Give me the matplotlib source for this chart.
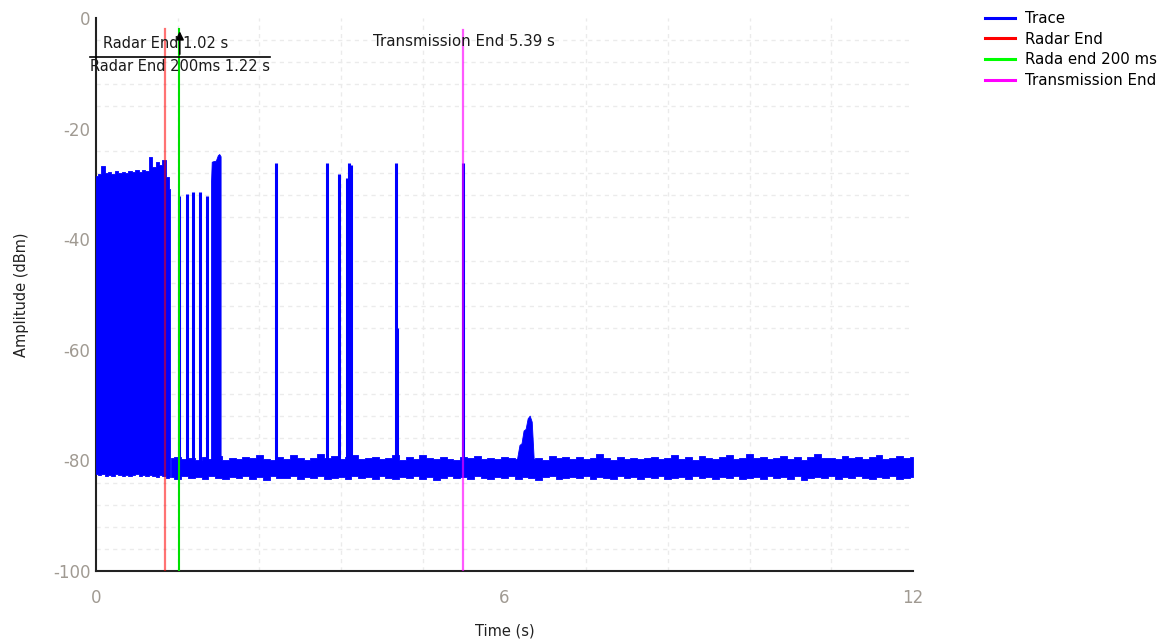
import numpy as np
import matplotlib
matplotlib.use("Agg")
import matplotlib.pyplot as plt

plt.rcParams['axes.unicode_minus'] = False
plt.rcParams['font.family'] = ['DejaVu Sans']

# dense radar burst, 0 .. 1.08 s (envelope)
burst_t = [0.00, 0.05, 0.10, 0.15, 0.20, 0.25, 0.30, 0.35, 0.40, 0.45, 0.50, 0.55,
           0.60, 0.65, 0.70, 0.75, 0.80, 0.85, 0.90, 0.95, 1.00, 1.05, 1.08]
burst_top = [-28.6, -28.3, -26.8, -28.0, -27.9, -28.2, -27.7, -28.0, -27.8, -28.1, -27.6, -27.9,
             -27.5, -27.8, -27.4, -27.7, -25.1, -27.0, -26.1, -26.6, -25.7, -28.7, -31.0]
burst_bot = [-82.5, -82.7, -82.4, -82.8, -82.6, -82.9, -82.5, -82.7, -82.8, -82.6, -82.9, -82.7,
             -82.5, -82.8, -82.6, -82.9, -82.7, -82.8, -83.0, -82.6, -82.9, -83.2, -83.0]

# noise floor, 1.1 .. 12.0 s every 0.1 s
floor_t = np.round(np.arange(1.1, 12.01, 0.1), 2)
floor_top = [
    -79.6, -79.3, -79.8, -79.5, -80.0, -79.4, -79.7, -79.2, -79.9, -79.5,
    -79.8, -79.3, -79.6, -79.0, -79.7, -79.9, -79.4, -79.8, -79.1, -79.6,
    -79.9, -79.5, -78.9, -79.6, -79.2, -79.8, -79.4, -79.0, -79.7, -79.5,
    -79.3, -79.8, -79.6, -79.1, -79.9, -79.4, -79.7, -79.0, -79.6, -79.8,
    -79.4, -79.7, -79.9, -79.3, -79.6, -79.2, -79.8, -79.5, -79.7, -79.4,
    -79.6, -79.8, -79.3, -79.7, -79.5, -79.9, -79.2, -79.6, -79.4, -79.7,
    -79.3, -79.8, -79.5, -78.8, -79.6, -79.9, -79.4, -79.7, -79.5, -79.8,
    -79.6, -79.3, -79.8, -79.5, -79.0, -79.7, -79.4, -79.9, -79.2, -79.6,
    -79.8, -79.4, -79.1, -79.7, -79.5, -78.8, -79.6, -79.3, -79.8, -79.5,
    -79.2, -79.7, -79.4, -79.9, -79.3, -78.9, -79.6, -79.5, -79.8, -79.2,
    -79.6, -79.3, -79.8, -79.4, -79.0, -79.7, -79.5, -79.2, -79.6, -79.4]
floor_bot = [
    -83.0, -83.4, -82.9, -83.2, -83.0, -83.3, -82.8, -83.1, -83.4, -83.0,
    -83.2, -82.9, -83.3, -83.0, -83.5, -82.9, -83.1, -83.2, -82.8, -83.3,
    -83.0, -83.2, -82.9, -83.4, -83.1, -83.0, -83.3, -82.9, -83.2, -83.0,
    -83.3, -82.9, -83.1, -83.4, -83.0, -83.2, -82.8, -83.3, -83.0, -83.6,
    -83.1, -82.9, -83.2, -83.0, -83.4, -82.9, -83.1, -83.3, -83.0, -83.2,
    -82.9, -83.3, -83.0, -83.2, -83.5, -83.0, -82.9, -83.3, -83.1, -83.0,
    -83.2, -82.9, -83.3, -83.0, -83.1, -83.4, -82.9, -83.2, -83.0, -83.3,
    -83.0, -83.2, -82.9, -83.4, -83.1, -83.0, -83.3, -82.9, -83.2, -83.0,
    -83.3, -83.0, -83.2, -82.9, -83.4, -83.1, -83.0, -83.3, -82.9, -83.2,
    -83.0, -83.3, -82.9, -83.5, -83.1, -83.0, -83.2, -82.9, -83.3, -83.0,
    -83.2, -82.9, -83.1, -83.3, -83.0, -83.2, -82.9, -83.4, -83.1, -83.0]

# isolated pulses after the burst
spike_t = [1.22, 1.33, 1.42, 1.53, 1.63, 2.64, 3.40, 3.57, 3.69, 3.72, 3.75, 4.40, 4.42, 5.39]
spike_top = [-32.2, -31.8, -31.5, -31.4, -32.2, -26.3, -26.3, -28.2, -29.0, -26.3, -26.5, -26.3, -56.0, -26.3]

# short pulse block around 1.7-1.8 s
block_t = [1.69, 1.70, 1.72, 1.76, 1.79, 1.81, 1.83]
block_top = [-29.5, -26.0, -25.9, -25.8, -24.8, -24.6, -25.0]

# small bump at ~6.3 s
bump_t = [6.18, 6.22, 6.25, 6.28, 6.31, 6.34, 6.37, 6.40, 6.43]
bump_top = [-80.0, -77.2, -76.9, -74.6, -74.3, -72.4, -71.9, -73.0, -80.0]

radar_end = 1.02
radar_end_200 = 1.22
tx_end = 5.39

blue = '#0000ff'

fig = plt.figure(figsize=(11.63, 6.42), dpi=100)
ax = fig.add_axes([96 / 1163, 1 - 571 / 642, 817 / 1163, 553 / 642])

# trace
ax.fill_between(burst_t, burst_bot, burst_top, color=blue, lw=0.6, zorder=3, step='mid')
ax.fill_between(floor_t, floor_bot, floor_top, color=blue, lw=0.6, zorder=3, step='mid')
ax.fill_between(block_t, -81.0, block_top, color=blue, lw=0.6, zorder=3)
ax.fill_between(bump_t, -81.0, bump_top, color=blue, lw=0.6, zorder=3)
ax.vlines(spike_t, -81.0, spike_top, color=blue, lw=2.2, zorder=3)
ax.plot([], [], color=blue, lw=2.2, label='Trace')

# markers
ax.plot([radar_end, radar_end], [-2.0, -100], color='#ff0000', alpha=0.55, lw=1.6,
        zorder=4, label='Radar End')
ax.plot([radar_end_200, radar_end_200], [-2.0, -100], color='#00e000', lw=1.5,
        zorder=5, label='Rada end 200 ms')
ax.plot([tx_end, tx_end], [-2.2, -100], color='#ff00ff', alpha=0.65, lw=1.6,
        zorder=4, label='Transmission End')

# annotation labels
ax.plot([-0.09, 2.56], [-7.05, -7.05], color='black', lw=1.2, clip_on=False, zorder=6)
ax.annotate('', xy=(1.23, -1.9), xytext=(1.23, -7.05),
            arrowprops=dict(arrowstyle='-|>', color='black', lw=1.2, mutation_scale=12),
            zorder=6, annotation_clip=False)
ax.text(0.10, -4.7, 'Radar End 1.02 s', fontsize=10.5, color='#1a1a1a', va='center', ha='left', zorder=7)
ax.text(-0.09, -8.8, 'Radar End 200ms 1.22 s', fontsize=10.5, color='#1a1a1a', va='center', ha='left',
        zorder=7, clip_on=False)
ax.text(4.07, -4.3, 'Transmission End 5.39 s', fontsize=10.8, color='#1a1a1a', va='center', ha='left', zorder=7)

# axes
ax.set_xlim(0, 12)
ax.set_ylim(-100, 0)
ax.set_xticks([0, 6, 12])
ax.set_yticks([0, -20, -40, -60, -80, -100])
ax.set_xticks(np.arange(0, 12.01, 1.2), minor=True)
ax.set_yticks(np.arange(-100, 0.1, 4), minor=True)
ax.grid(which='minor', color='#ebebeb', ls=(0, (3, 3)), lw=1.0)
ax.grid(which='major', visible=False)
ax.tick_params(which='both', length=0)
ax.tick_params(axis='both', labelsize=12, labelcolor='#a09a92')
ax.tick_params(axis='x', pad=13)
ax.tick_params(axis='y', pad=4)
for s in ['top', 'right']:
    ax.spines[s].set_visible(False)
for s in ['left', 'bottom']:
    ax.spines[s].set_color('#222222')
    ax.spines[s].set_linewidth(1.5)
ax.set_axisbelow(True)

ax.set_xlabel('Time (s)', fontsize=10.5, color='#222222', labelpad=12)
ax.set_ylabel('Amplitude (dBm)', fontsize=10.5, color='#222222', labelpad=17)

leg = fig.legend(loc='upper left', bbox_to_anchor=(985 / 1163, 1 - 11 / 642),
                 frameon=False, fontsize=10.8, borderpad=0, borderaxespad=0,
                 handlelength=2.0, handletextpad=0.65, labelspacing=0.38)
for h in leg.legend_handles:
    h.set_alpha(1)
    h.set_linewidth(2.2)
for t, c in zip(leg.get_lines(), ['#0000ff', '#ff0000', '#00ff00', '#ff00ff']):
    t.set_color(c)

fig.savefig('out.png', dpi=100)
